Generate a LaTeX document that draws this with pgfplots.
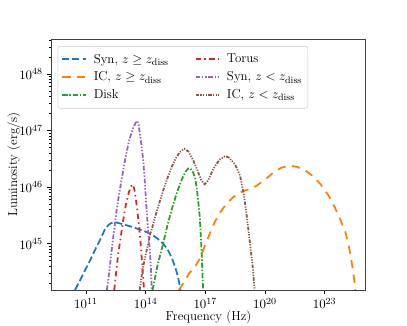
\documentclass[border=0pt]{standalone}
\usepackage{pgfplots}
\pgfplotsset{compat=1.18}

% matplotlib tab10
\definecolor{tabblue}{HTML}{1F77B4}
\definecolor{taborange}{HTML}{FF7F0E}
\definecolor{tabgreen}{HTML}{2CA02C}
\definecolor{tabred}{HTML}{D62728}
\definecolor{tabpurple}{HTML}{9467BD}
\definecolor{tabbrown}{HTML}{8C564B}

\newcommand\figfont{\fontsize{11}{13.2}\selectfont}

\begin{document}
\begin{tikzpicture}
  % page = whole figure, axis frame at the origin
  \useasboundingbox (-43.4pt,-30.6pt) rectangle (302.7pt,246.6pt);
  \begin{axis}[
      at={(0,0)}, anchor=south west,
      scale only axis,
      width=267.8pt, height=213.4pt,
      xmin=9.243, xmax=25.08,
      ymin=44.18, ymax=48.62,
      xtick={11,14,17,20,23},
      xticklabels={$10^{11}$,$10^{14}$,$10^{17}$,$10^{20}$,$10^{23}$},
      ytick={45,46,47,48},
      yticklabels={$10^{45}$,$10^{46}$,$10^{47}$,$10^{48}$},
      minor ytick={44.301,44.477,44.602,44.699,44.778,44.845,44.903,44.954,
                   45.301,45.477,45.602,45.699,45.778,45.845,45.903,45.954,
                   46.301,46.477,46.602,46.699,46.778,46.845,46.903,46.954,
                   47.301,47.477,47.602,47.699,47.778,47.845,47.903,47.954,
                   48.301,48.477,48.602},
      xtick pos=bottom, ytick pos=left,
      tick align=outside,
      major tick length=3.5pt, minor tick length=2pt,
      every tick/.style={black, line width=0.6pt},
      axis line style={black!75, line width=0.8pt},
      tick label style={font=\figfont},
      xlabel={Frequency (Hz)},
      ylabel={Luminosity (erg/s)},
      every axis x label/.style={at={([yshift=-23pt]rel axis cs:0.5,0)},
        anchor=center, font=\figfont},
      every axis y label/.style={at={([xshift=-31.5pt]rel axis cs:0,0.5)},
        anchor=center, rotate=90, font=\figfont},
      legend columns=2,
      legend cell align=left,
      legend style={
        font=\figfont,
        at={(0.021,0.972)}, anchor=north west,
        draw=black!20, rounded corners=2pt,
        fill=white, fill opacity=0.8, text opacity=1,
        inner xsep=3pt, inner ysep=4.5pt,
        row sep=2pt,
        /tikz/every even column/.append style={column sep=20pt},
      },
      legend image code/.code={%
        \draw[#1] (0pt,0pt) -- (20pt,0pt);
        \path (24pt,0pt);},
      every axis plot/.append style={line width=1.5pt},
    ]
    % Syn, z >= z_diss
    \addplot[tabblue, dash pattern=on 6pt off 2.6pt] coordinates {
      (10.45,44.18) (10.8,44.42) (11.2,44.70) (11.5,44.92) (11.7,45.06)
      (11.95,45.25) (12.1,45.32) (12.25,45.36) (12.46,45.38) (12.9,45.34)
      (13.37,45.29) (13.8,45.24) (14.21,45.18) (14.6,45.09) (14.88,45.00)
      (15.1,44.90) (15.3,44.76) (15.5,44.57) (15.63,44.41) (15.75,44.18)
    };
    \addlegendentry{Syn, $z \geq z_{\mathrm{diss}}$}
    % Torus
    \addplot[tabred, dash pattern=on 4.5pt off 3pt on 1.2pt off 3pt] coordinates {
      (12.42,44.18) (12.52,44.50) (12.62,44.82) (12.75,45.12) (12.87,45.41)
      (13.0,45.68) (13.15,45.90) (13.25,46.00) (13.33,46.05) (13.42,45.98)
      (13.5,45.82) (13.58,45.59) (13.67,45.30) (13.75,45.00) (13.85,44.53)
      (13.92,44.18)
    };
    \addlegendentry{Torus}
    % IC, z >= z_diss
    \addplot[taborange, dash pattern=on 7pt off 5.5pt] coordinates {
      (15.67,44.18) (15.9,44.30) (16.2,44.48) (16.5,44.60) (16.75,44.75)
      (17.0,44.98) (17.25,45.20) (17.5,45.40) (17.8,45.58) (18.1,45.72)
      (18.4,45.82) (18.7,45.90) (19.0,45.94) (19.3,45.97) (19.6,46.03)
      (20.0,46.13) (20.4,46.25) (20.8,46.34) (21.2,46.38) (21.6,46.36)
      (22.0,46.30) (22.4,46.20) (22.8,46.05) (23.2,45.85) (23.5,45.65)
      (23.8,45.42) (24.05,45.20) (24.25,44.90) (24.42,44.55) (24.5,44.32)
      (24.55,44.18)
    };
    \addlegendentry{IC, $z \geq z_{\mathrm{diss}}$}
    % Syn, z < z_diss
    \addplot[tabpurple, dash pattern=on 4pt off 1.5pt on 1.2pt off 1.5pt on 1.2pt off 1.5pt] coordinates {
      (12.05,44.18) (12.17,44.50) (12.29,44.88) (12.42,45.25) (12.54,45.59)
      (12.75,46.05) (12.96,46.47) (13.15,46.80) (13.35,47.03) (13.5,47.14)
      (13.58,47.17) (13.65,47.10) (13.71,46.94) (13.8,46.72) (13.88,46.47)
      (13.97,46.05) (14.05,45.59) (14.13,45.22) (14.21,44.88) (14.27,44.55)
      (14.31,44.18)
    };
    \addlegendentry{Syn, $z < z_{\mathrm{diss}}$}
    % Disk
    \addplot[tabgreen, dash pattern=on 4.5pt off 1.5pt on 1.2pt off 1.5pt] coordinates {
      (14.35,44.18) (14.6,44.62) (14.88,45.00) (15.1,45.33) (15.3,45.59)
      (15.55,45.88) (15.8,46.12) (16.0,46.27) (16.14,46.33) (16.25,46.33)
      (16.4,46.25) (16.5,46.15) (16.58,45.95) (16.66,45.70) (16.72,45.48)
      (16.78,45.10) (16.82,44.80) (16.86,44.45) (16.89,44.18)
    };
    \addlegendentry{Disk}
    % IC, z < z_diss
    \addplot[tabbrown, dash pattern=on 3pt off 1.2pt on 1pt off 1.2pt on 1pt off 1.2pt on 1pt off 1.2pt] coordinates {
      (13.7,44.18) (13.85,44.55) (14.05,44.88) (14.2,45.12) (14.38,45.35)
      (14.6,45.62) (14.88,45.94) (15.1,46.16) (15.3,46.35) (15.5,46.50)
      (15.72,46.62) (15.95,46.68) (16.15,46.63) (16.4,46.47) (16.6,46.30)
      (16.8,46.12) (16.97,46.05) (17.15,46.12) (17.4,46.32) (17.7,46.48)
      (18.0,46.55) (18.2,46.52) (18.5,46.40) (18.75,46.20) (18.95,45.85)
      (19.1,45.45) (19.25,45.00) (19.38,44.60) (19.48,44.18)
    };
    \addlegendentry{IC, $z < z_{\mathrm{diss}}$}
  \end{axis}
\end{tikzpicture}
\end{document}
